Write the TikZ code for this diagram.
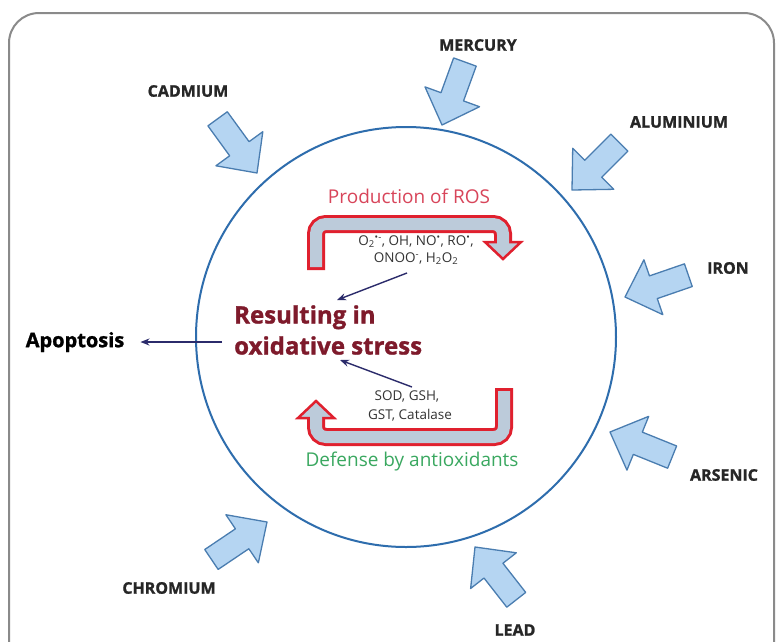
\documentclass[tikz,border=0pt]{standalone}
\usepackage{fontspec}
\setmainfont{Open Sans}
\newfontfamily\heavyfont{Open Sans}[BoldFeatures={FakeBold=1.2}]
\usetikzlibrary{arrows.meta}
\definecolor{framegray}{HTML}{8A8A8A}
\definecolor{circblue}{HTML}{2E6DAD}
\definecolor{arrfill}{HTML}{B5D5F2}
\definecolor{arrdraw}{HTML}{4A7DB0}
\definecolor{rosred}{HTML}{D8455A}
\definecolor{bandred}{HTML}{E0202E}
\definecolor{bandfill}{HTML}{BCCBDA}
\definecolor{stressred}{HTML}{7E1A2B}
\definecolor{defgreen}{HTML}{3AA860}
\definecolor{navy}{HTML}{2B2B6B}
\begin{document}
\begin{tikzpicture}[x=1pt,y=-1pt,
  metal/.style={font=\fontsize{16}{18}\selectfont\heavyfont\bfseries, text=black!85, inner sep=0pt},
  small/.style={font=\fontsize{13.5}{15}\selectfont, text=black!80, inner sep=0pt},
  navyarrow/.style={draw=navy, line width=1.4pt, -{Stealth[length=9pt,width=7pt]}},
  outerband/.style={draw=bandred, line width=18pt, rounded corners=10pt},
  innerband/.style={draw=bandfill, line width=12pt, rounded corners=10pt},
  bandhead/.style={fill=bandfill, draw=bandred, line width=2.5pt, line join=miter},
  pics/heavyarrow/.style={code={
    \filldraw[fill=arrfill, draw=arrdraw, line width=1.3pt, line join=round]
      (0,0) -- (-30,29) -- (-30,12) -- (-67,12) -- (-67,-12) -- (-30,-12) -- (-30,-29) -- cycle;}}
]
\useasboundingbox (0,0) rectangle (777,641);
\fill[white] (0,0) rectangle (777,641);

% frame
\draw[framegray, line width=2pt, rounded corners=30pt] (9,680) -- (9,13) -- (774,13) -- (774,680);

% cell
\node[draw=circblue, line width=2pt, circle, minimum size=420pt, inner sep=0pt] (cell) at (406,337) {};

% heavy metal arrows
\pic[rotate=-54]  at (257,173) {heavyarrow};
\pic[rotate=-110] at (442,125) {heavyarrow};
\pic[rotate=-135] at (572,190) {heavyarrow};
\pic[rotate=-161] at (625,297) {heavyarrow};
\pic[rotate=158]  at (610,432) {heavyarrow};
\pic[rotate=128]  at (475,547) {heavyarrow};
\pic[rotate=34]   at (267,522) {heavyarrow};

% labels
\node[metal] (hg) at (478,45) {MERCURY};
\node[metal] (cd) at (188,91) {CADMIUM};
\node[metal] (al) at (679,122) {ALUMINIUM};
\node[metal] (fe) at (728,268) {IRON};
\node[metal] (as) at (724,475) {ARSENIC};
\node[metal] (cr) at (169,588) {CHROMIUM};
\node[metal] (pb) at (515,630) {LEAD};

% production of ROS band
\draw[outerband] (316,270) -- (316,224) -- (503,224) -- (503,243);
\filldraw[bandhead] (485,242) -- (521,242) -- (503,259) -- cycle;
\draw[innerband] (316,267) -- (316,224) -- (503,224) -- (503,246);

% defense band
\draw[outerband] (504,388) -- (504,437) -- (316,437) -- (316,417);
\filldraw[bandhead] (298,418) -- (334,418) -- (316,401) -- cycle;
\draw[innerband] (504,391) -- (504,437) -- (316,437) -- (316,414);

% texts
\node[font=\fontsize{19}{22}\selectfont, text=rosred, inner sep=0pt] (prod) at (409,196) {Production of ROS};
\node[small] (f1) at (416,242) {O\textsubscript{2}\textsuperscript{•-}, OH, NO\textsuperscript{•}, RO\textsuperscript{•},};
\node[small] (f2) at (416,259) {ONOO\textsuperscript{-}, H\textsubscript{2}O\textsubscript{2}};
\node[small] (sod) at (407,396) {SOD, GSH,};
\node[small] (gst) at (410,415) {GST, Catalase};
\node[font=\fontsize{19}{22}\selectfont, text=defgreen, inner sep=0pt] (def) at (412,462) {Defense by antioxidants};

\node[font=\fontsize{24}{31}\selectfont\heavyfont\bfseries, text=stressred, align=left, anchor=west, inner sep=0pt] (stress) at (234,330) {Resulting in\\oxidative stress};
\node[font=\fontsize{20}{22}\selectfont\heavyfont\bfseries, text=black, inner sep=0pt] (apo) at (75,342) {Apoptosis};

% connectors
\coordinate (r0) at (407,273);
\coordinate (r1) at (337,300);
\coordinate (d0) at (412,387);
\coordinate (d1) at (340,360);
\coordinate (s0) at (222,342);
\draw[navyarrow] (r0) -- (r1);
\draw[navyarrow] (d0) -- (d1);
\draw[navyarrow] (s0) -- ([xshift=16pt]apo.east);
\end{tikzpicture}
\end{document}
